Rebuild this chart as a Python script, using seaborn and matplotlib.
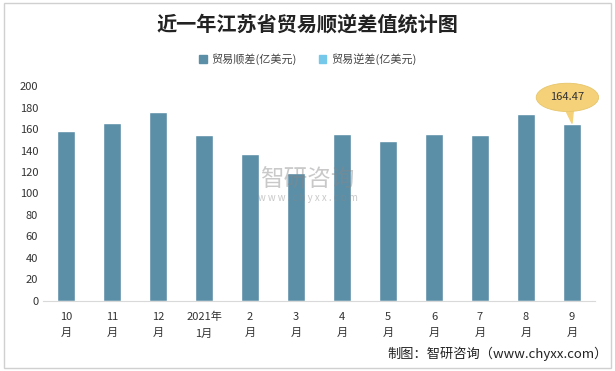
import pandas as pd
import matplotlib.pyplot as plt
import seaborn as sns
from matplotlib.patches import Patch, Rectangle

# 数据
months = ['10\n月', '11\n月', '12\n月', '2021年\n1月', '2\n月', '3\n月',
          '4\n月', '5\n月', '6\n月', '7\n月', '8\n月', '9\n月']
surplus = [158.0, 165.5, 175.8, 154.6, 136.6, 118.9,
           155.2, 148.7, 155.2, 154.3, 173.9, 164.47]
y_ticks = [0, 20, 40, 60, 80, 100, 120, 140, 160, 180, 200]

df = pd.DataFrame({'month': months, 'surplus': surplus})

sns.set_style('white')
plt.rcParams['font.family'] = ['Noto Sans CJK SC', 'DejaVu Sans']

fig = plt.figure(figsize=(6.15, 3.71), dpi=100)
ax = fig.add_axes([0.070, 0.189, 0.8975, 0.579])

sns.barplot(data=df, x='month', y='surplus', color='#5B8FA8', saturation=1,
            width=0.385, ax=ax)

ax.set_ylim(0, 200)
ax.set_xlim(-0.5, 11.5)
ax.set_yticks(y_ticks)
ax.set_xlabel('')
ax.set_ylabel('')
ax.tick_params(axis='both', length=0, labelsize=8, colors='#333333')
ax.tick_params(axis='x', pad=8)
for lbl in ax.get_xticklabels():
    lbl.set_linespacing(1.75)
for s in ['top', 'right', 'left']:
    ax.spines[s].set_visible(False)
ax.spines['bottom'].set_color('#d9d9d9')

# 最后一个月的标注
ax.annotate('164.47', xy=(11, surplus[-1] + 1), xytext=(10.9, surplus[-1] + 25),
            ha='center', va='center', fontsize=8, color='#333333',
            bbox=dict(boxstyle='ellipse,pad=0.45', fc='#F5D27A', ec='#e6c56a', lw=0.6),
            arrowprops=dict(arrowstyle='wedge,tail_width=0.6', fc='#F5D27A',
                            ec='#F5D27A', shrinkA=0, shrinkB=0))

# 水印
fig.text(0.50, 0.515, '智研咨询', fontsize=17, color='#888888', alpha=0.45,
         ha='center', va='center')
fig.text(0.50, 0.465, 'w w w . c h y x x . c o m', fontsize=7, color='#888888',
         alpha=0.45, ha='center', va='center')

# 标题和图例
fig.text(0.5, 0.935, '近一年江苏省贸易顺逆差值统计图', fontsize=14.5, fontweight='bold',
         color='#222222', ha='center', va='center')
handles = [Patch(color='#5B8FA8', label='贸易顺差(亿美元)'),
           Patch(color='#75C8EA', label='贸易逆差(亿美元)')]
fig.legend(handles=handles, loc='center', bbox_to_anchor=(0.5, 0.84), ncol=2,
           frameon=False, fontsize=8, handlelength=0.7, handleheight=0.7,
           handletextpad=0.4, columnspacing=2.0, labelcolor='#444444')

fig.text(0.988, 0.045, '制图：智研咨询（www.chyxx.com）', fontsize=9.5,
         color='#222222', ha='right', va='center')

fig.patches.append(Rectangle((0.006, 0.008), 0.988, 0.984, transform=fig.transFigure,
                             fill=False, ec='#d0d0d0', lw=1))

plt.savefig('out.png', dpi=100)
